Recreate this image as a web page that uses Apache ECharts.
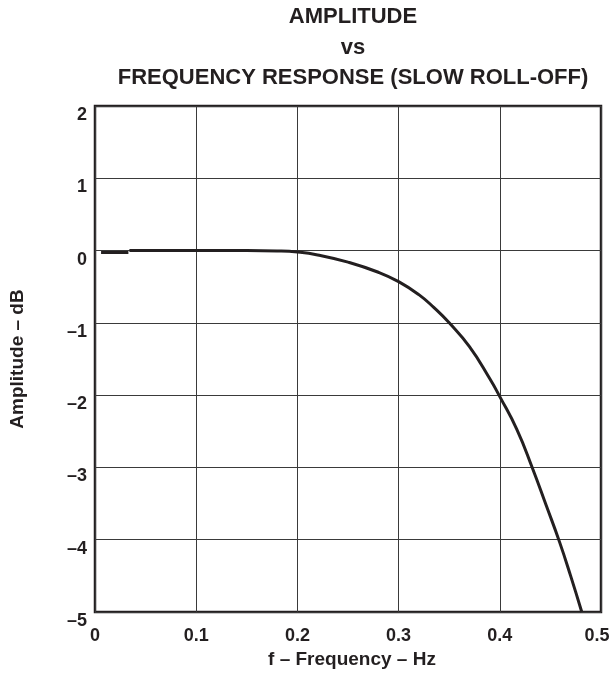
<!DOCTYPE html>
<html>
<head>
<meta charset="utf-8">
<script src="https://cdn.jsdelivr.net/npm/echarts@6/dist/echarts.min.js"></script>
<style>html,body{margin:0;padding:0;background:#fff;}#c{width:612px;height:673px;}</style>
</head>
<body>
<div id="c"></div>
<script>
const titleLines = ['AMPLITUDE', 'vs', 'FREQUENCY RESPONSE (SLOW ROLL-OFF)'];
const xName = 'f – Frequency – Hz';
const yName = 'Amplitude – dB';
const startFreq = [0.006, 0.033];
const startAmp  = [-0.025, -0.025];
const freq = [0.034, 0.06, 0.1, 0.15, 0.18, 0.2, 0.22, 0.25, 0.28, 0.3, 0.32, 0.335, 0.35, 0.37, 0.39, 0.4, 0.4167, 0.432, 0.446, 0.459, 0.47, 0.481];
const amp  = [0, 0, 0, 0, -0.005, -0.02, -0.06, -0.16, -0.30, -0.43, -0.61, -0.79, -1.0, -1.33, -1.77, -2.02, -2.47, -3.0, -3.53, -4.03, -4.5, -5.0];

const ink = '#231f20';
const font = 'Liberation Sans, Arial, Helvetica, sans-serif';
const lblStyle = {fontFamily: font, fontWeight: 'bold', fontSize: 18, color: ink};
const chart = echarts.init(document.getElementById('c'), null, {renderer: 'canvas'});
chart.setOption({
  backgroundColor: '#fff',
  animation: false,
  title: {
    text: titleLines.join('\n'),
    left: 348, top: -3, textAlign: 'center',
    textStyle: {fontFamily: font, fontWeight: 'bold', fontSize: 22, lineHeight: 30.5, color: ink}
  },
  grid: {left: 95, right: 11, top: 106, bottom: 61, show: true, borderColor: ink, borderWidth: 2.5,
    containLabel: false, outerBoundsMode: 'none'},
  xAxis: {
    type: 'value', min: 0, max: 0.5, interval: 0.1,
    name: xName, nameLocation: 'middle', nameGap: 34,
    nameTextStyle: {fontFamily: font, fontWeight: 'bold', fontSize: 19, color: ink, padding: [0, 0, 0, 8]},
    axisLine: {show: false}, axisTick: {show: false},
    axisLabel: Object.assign({}, lblStyle, {margin: 15,
      formatter: v => (v === 0 ? '0' : (v >= 0.5 ? '{e|' + v.toFixed(1) + '}' : v.toFixed(1))),
      rich: {e: Object.assign({}, lblStyle, {padding: [0, 8, 0, 0]})}}),
    splitLine: {show: true, lineStyle: {color: '#3a3a3a', width: 1}}
  },
  yAxis: {
    type: 'value', min: -5, max: 2, interval: 1,
    name: yName, nameLocation: 'middle', nameGap: 62, nameRotate: 90,
    nameTextStyle: {fontFamily: font, fontWeight: 'bold', fontSize: 19, color: ink, padding: [0, 0, 6, 0]},
    axisLine: {show: false}, axisTick: {show: false},
    axisLabel: Object.assign({}, lblStyle, {margin: 8, verticalAlign: 'top',
      formatter: v => (v < 0 ? '–' + Math.abs(v) : String(v))}),
    splitLine: {show: true, lineStyle: {color: '#3a3a3a', width: 1}}
  },
  series: [{
    type: 'line',
    data: startFreq.map((f, i) => [f, startAmp[i]]),
    showSymbol: false,
    lineStyle: {color: ink, width: 3},
    z: 5
  }, {
    type: 'line',
    data: freq.map((f, i) => [f, amp[i]]),
    showSymbol: false, smooth: 0.5,
    lineStyle: {color: ink, width: 3},
    z: 5
  }]
});
</script>
</body>
</html>
